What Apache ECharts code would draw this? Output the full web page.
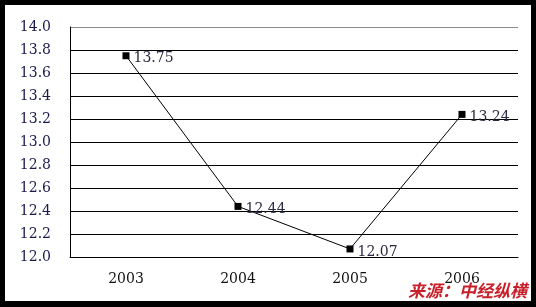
<!DOCTYPE html>
<html>
<head>
<meta charset="utf-8">
<script src="https://cdn.jsdelivr.net/npm/echarts@6/dist/echarts.min.js"></script>
<style>
  html, body { margin: 0; padding: 0; background: #000; }
  #main { width: 536px; height: 307px; }
</style>
</head>
<body>
<div id="main"></div>
<script>
var years = ["2003", "2004", "2005", "2006"];
var values = [13.75, 12.44, 12.07, 13.24];
var source = "来源：中经纵横";

// 网格线颜色：最上面那条是灰色
var gridColors = [];
for (var i = 0; i < 10; i++) gridColors.push("#000");
gridColors.push("#8a8a8a");

var myChart = echarts.init(document.getElementById("main"));
var option = {
  backgroundColor: "transparent",
  animation: false,
  graphic: [
    {
      type: "rect",
      z: -10,
      shape: { x: 5, y: 5, width: 526, height: 296 },
      style: { fill: "#fff" }
    },
    {
      type: "text",
      right: 9,
      bottom: 8,
      z: 10,
      style: {
        text: source,
        font: "italic bold 17px 'Noto Sans CJK SC'",
        fill: "#c8202a",
        shadowColor: "rgba(0,0,0,0.45)",
        shadowOffsetX: 1,
        shadowOffsetY: 1,
        shadowBlur: 1
      }
    }
  ],
  grid: { left: 70, top: 27, right: 18, bottom: 50 },
  xAxis: {
    type: "category",
    data: years,
    boundaryGap: true,
    axisLine: { lineStyle: { color: "#000", width: 1 } },
    axisTick: { inside: true, length: 5, lineStyle: { color: "#000" } },
    axisLabel: {
      color: "#111",
      fontFamily: "DejaVu Serif",
      fontSize: 14,
      margin: 15
    },
    splitLine: { show: false }
  },
  yAxis: {
    type: "value",
    min: 12.0,
    max: 14.0,
    interval: 0.2,
    axisLine: { show: true, lineStyle: { color: "#000" } },
    axisTick: { show: false },
    axisLabel: {
      color: "#1a1a50",
      fontFamily: "DejaVu Serif",
      fontSize: 14,
      margin: 19,
      formatter: function (v) { return v.toFixed(1); }
    },
    splitLine: { show: true, lineStyle: { color: gridColors, width: 1 } }
  },
  series: [
    {
      type: "line",
      data: values,
      symbol: "rect",
      symbolSize: 7,
      itemStyle: { color: "#000" },
      lineStyle: { color: "#000", width: 1 },
      label: {
        show: true,
        position: "right",
        distance: 4,
        color: "#2a2a40",
        fontFamily: "DejaVu Serif",
        fontSize: 14,
        offset: [0, 3],
        formatter: function (p) { return p.value.toFixed(2); }
      }
    }
  ]
};
myChart.setOption(option);
</script>
</body>
</html>
